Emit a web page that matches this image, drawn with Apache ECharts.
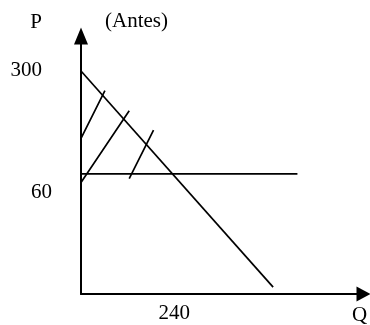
<!DOCTYPE html>
<html>
<head>
<meta charset="utf-8">
<script src="https://cdn.jsdelivr.net/npm/echarts@6/dist/echarts.min.js"></script>
<style>html,body{margin:0;padding:0;background:#fff}#c{width:370px;height:325px}</style>
</head>
<body>
<div id="c"></div>
<script>
// Schematic demand diagram (Q, P units)
const demandQ = [0, 506];
const demandP = [300, -204];
const priceLineQ = [0, 570];
const priceLineP = [60, 60];
// hatch segments: [Q0, P0, Q1, P1]
const hatchQ0 = [0, 0, 127];
const hatchP0 = [143, 40, 49];
const hatchQ1 = [63, 127, 191];
const hatchP1 = [254, 207, 162];
const yTickValues = [300, 60];
const yTickLabels = ['300', '60'];
const xTickValues = [240];
const xTickLabels = ['240'];
const axisNames = ['Q', 'P'];
const titleText = '(Antes)';

const FONT = '"Liberation Serif", "Times New Roman", serif';
const chart = echarts.init(document.getElementById('c'));

const hatchData = [];
for (let i = 0; i < hatchQ0.length; i++) {
  hatchData.push([hatchQ0[i], hatchP0[i]], [hatchQ1[i], hatchP1[i]], null);
}
const lineStyle = { color: '#000', width: 1.7 };

chart.setOption({
  animation: false,
  grid: { left: 81, right: 6.5, top: 36, bottom: 31 },
  xAxis: {
    type: 'value', min: 0, max: 744,
    axisLine: { onZero: false, lineStyle: { color: '#000', width: 2 }, symbol: ['none', 'triangle'], symbolSize: [15, 14] },
    axisTick: { show: false }, axisLabel: { show: false }, splitLine: { show: false }
  },
  yAxis: {
    type: 'value', min: -220, max: 381.5,
    axisLine: { show: true, onZero: false, lineStyle: { color: '#000', width: 2 }, symbol: ['none', 'triangle'], symbolSize: [14, 17] },
    axisTick: { show: false }, axisLabel: { show: false }, splitLine: { show: false }
  },
  series: [
    { type: 'line', data: demandQ.map((q, i) => [q, demandP[i]]), symbol: 'none', lineStyle, silent: true },
    { type: 'line', data: priceLineQ.map((q, i) => [q, priceLineP[i]]), symbol: 'none', lineStyle, silent: true },
    { type: 'line', data: hatchData, symbol: 'none', connectNulls: false, lineStyle, silent: true }
  ]
});

const origin = chart.convertToPixel({ gridIndex: 0 }, [0, 0]);
const axisX = origin[0];
const txt = (text, x, y, align) => ({
  type: 'text', x, y,
  style: { text, fill: '#000', font: '21px ' + FONT, textAlign: align, textVerticalAlign: 'middle' }
});
const elems = [];
const yOffsets = [[-39, -0.5], [-29, 19]];
yTickValues.forEach((v, i) => {
  const p = chart.convertToPixel({ gridIndex: 0 }, [0, v]);
  elems.push(txt(yTickLabels[i], axisX + yOffsets[i][0], p[1] + yOffsets[i][1], 'right'));
});
xTickValues.forEach((v, i) => {
  const p = chart.convertToPixel({ gridIndex: 0 }, [v, 0]);
  elems.push(txt(xTickLabels[i], p[0] + 2, 313.5, 'center'));
});
elems.push(txt(axisNames[1], 36, 22, 'center'));
elems.push(txt(axisNames[0], 352, 315.5, 'left'));
elems.push(txt(titleText, 105, 21, 'left'));
chart.setOption({ graphic: { elements: elems } });
</script>
</body>
</html>
